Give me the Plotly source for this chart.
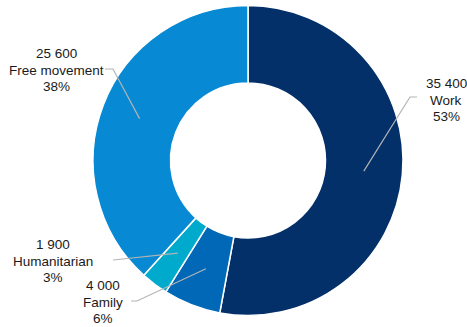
import math
import plotly.graph_objects as go

labels = ["Work", "Family", "Humanitarian", "Free movement"]
values = [35400, 4000, 1900, 25600]
value_text = ["35 400", "4 000", "1 900", "25 600"]
pct_text = ["53%", "6%", "3%", "38%"]
colors = ["#04306A", "#0068B6", "#00AACD", "#0789D3"]

W, H = 467, 327
cx, cy, r_out = 248, 160.5, 155
hole = 0.5

# where each label sits (pixels) and where its leader line leaves the text
label_pos = [(446, 100), (103, 302), (53, 261), (56, 70)]
line_start = [(417, 97), (131, 301), (113, 260), (105, 69)]
elbow = [-7, 6, 0, 8]
line_gap = 16.5

fig = go.Figure()

fig.add_trace(go.Pie(
    labels=labels, values=values, hole=hole, sort=False,
    direction="clockwise", rotation=0,
    marker=dict(colors=colors, line=dict(color="white", width=1.5)),
    textinfo="none", hoverinfo="label+value+percent", showlegend=False,
    domain=dict(x=[(cx - r_out) / W, (cx + r_out) / W],
                y=[(H - cy - r_out) / H, (H - cy + r_out) / H]),
))

# leader lines, ending at the middle of the ring for each slice
total = sum(values)
r_mid = r_out * (1 + hole) / 2
cum = 0
for i, v in enumerate(values):
    mid = (cum + v / 2) / total * 2 * math.pi
    cum += v
    px = cx + r_mid * math.sin(mid)
    py = cy - r_mid * math.cos(mid)
    sx, sy = line_start[i]
    fig.add_shape(
        type="path", xref="x", yref="y", layer="above",
        path=f"M {sx},{sy} L {sx + elbow[i]},{sy} L {px:.1f},{py:.1f}",
        line=dict(color="#B4B4B4", width=1.2),
    )
    lx, ly = label_pos[i]
    # one annotation per line so the spacing stays tight
    for k, t in enumerate([value_text[i], labels[i], pct_text[i]]):
        fig.add_annotation(
            x=lx, y=ly + (k - 1) * line_gap, xref="x", yref="y", showarrow=False,
            text=t,
            font=dict(family="Liberation Sans, Arial", size=13.5, color="#1A1A1A"),
        )

fig.update_layout(
    width=W, height=H,
    margin=dict(l=0, r=0, t=0, b=0),
    paper_bgcolor="white", plot_bgcolor="rgba(0,0,0,0)",
    xaxis=dict(range=[0, W], visible=False, fixedrange=True),
    yaxis=dict(range=[H, 0], visible=False, fixedrange=True),
)

fig.write_html("out.html", config={"displayModeBar": False},
               post_script="document.body.style.margin='0';")
